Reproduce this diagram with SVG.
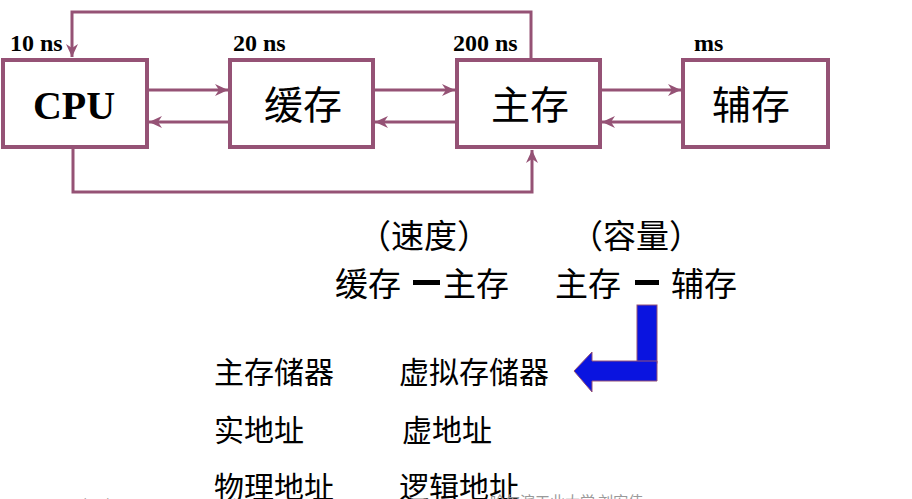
<svg xmlns="http://www.w3.org/2000/svg" width="912" height="499" viewBox="0 0 912 499">
<style>
.box{fill:#fff;stroke:#955275;stroke-width:4}
.con{fill:none;stroke:#955275;stroke-width:3}
.lbl{font-family:"Liberation Serif",serif;font-weight:bold;font-size:24px;fill:#000}
.cn{font-family:"Noto Sans CJK SC","Noto Sans CJK JP",sans-serif;fill:#000}
.big{font-size:39px}
.mid{font-size:33px}
.sm{font-size:30px}
.foot{font-family:"Noto Sans CJK SC",sans-serif;font-size:15px;fill:#999}
</style>
<defs>
<marker id="ah" markerUnits="userSpaceOnUse" markerWidth="14" markerHeight="12" refX="13" refY="6" orient="auto">
<path d="M0,0 L13,6 L0,12 L4,6 z" fill="#955275"/>
</marker>
</defs>
<g id="connectors">
<path class="con" d="M531,58 V12 H72 V57" marker-end="url(#ah)"/>
<path class="con" d="M73,149 V192 H532 V150" marker-end="url(#ah)"/>
<line class="con" x1="149" y1="90" x2="228" y2="90" marker-end="url(#ah)"/>
<line class="con" x1="228" y1="122" x2="149" y2="122" marker-end="url(#ah)"/>
<line class="con" x1="375" y1="90" x2="455" y2="90" marker-end="url(#ah)"/>
<line class="con" x1="455" y1="122" x2="375" y2="122" marker-end="url(#ah)"/>
<line class="con" x1="602" y1="90" x2="681" y2="90" marker-end="url(#ah)"/>
<line class="con" x1="681" y1="122" x2="602" y2="122" marker-end="url(#ah)"/>
</g>
<g id="cpu">
<rect class="box" x="3" y="60" width="144" height="87"/>
<text x="74" y="119" text-anchor="middle" font-family="Liberation Serif,serif" font-weight="bold" font-size="40">CPU</text>
<text class="lbl" x="10" y="51">10 ns</text>
</g>
<g id="cache">
<rect class="box" x="230" y="60" width="143" height="87"/>
<text class="cn big" x="303" y="119" text-anchor="middle">缓存</text>
<text class="lbl" x="233" y="51">20 ns</text>
</g>
<g id="main">
<rect class="box" x="457" y="60" width="143" height="87"/>
<text class="cn big" x="530" y="119" text-anchor="middle">主存</text>
<text class="lbl" x="453" y="51">200 ns</text>
</g>
<g id="aux">
<rect class="box" x="683" y="60" width="145" height="87"/>
<text class="cn big" x="751" y="119" text-anchor="middle">辅存</text>
<text class="lbl" x="694" y="51">ms</text>
</g>
<g id="speed">
<text class="cn mid" x="358" y="248">（速度）</text>
<text class="cn mid" x="335" y="296">缓存</text>
<rect x="413" y="280" width="27" height="5" fill="#000"/>
<text class="cn mid" x="443" y="296">主存</text>
</g>
<g id="capacity">
<text class="cn mid" x="570" y="248">（容量）</text>
<text class="cn mid" x="555" y="296">主存</text>
<rect x="635" y="280" width="24" height="5" fill="#000"/>
<text class="cn mid" x="671" y="296">辅存</text>
</g>
<g id="bluearrow">
<rect x="637" y="305" width="20" height="58" fill="#0a14e0" stroke="#955275" stroke-width="1"/>
<polygon points="657,361 657,381 592,381 592,392 574,371 592,352 592,361" fill="#0a14e0" stroke="#955275" stroke-width="1"/>
</g>
<g id="terms">
<text class="cn sm" x="214" y="383">主存储器</text>
<text class="cn sm" x="399" y="383">虚拟存储器</text>
<text class="cn sm" x="214" y="441">实地址</text>
<text class="cn sm" x="402" y="441">虚地址</text>
<text class="cn sm" x="214" y="498">物理地址</text>
<text class="cn sm" x="399" y="498">逻辑地址</text>
</g>
<g id="footer">
<text class="foot" x="47" y="510">2015/11/12</text>
<text class="foot" x="490" y="507">哈尔滨工业大学 刘宏伟</text>
</g>
</svg>
